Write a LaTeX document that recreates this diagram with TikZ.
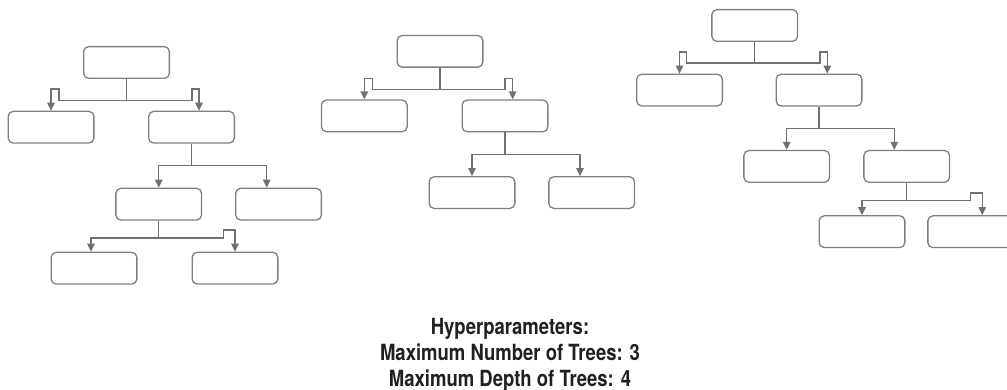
\documentclass[tikz,border=0pt]{standalone}
\usepackage{xcolor}
\usepackage{fontspec}
\usepackage{tikz}
\usetikzlibrary{arrows.meta, positioning}

\newfontfamily\hpfont{TeX Gyre Heros}[FakeStretch=0.83]
\definecolor{boxgray}{HTML}{7F7F7F}
\definecolor{linkgray}{HTML}{717171}
\definecolor{textdark}{HTML}{231F20}

\begin{document}
\begin{tikzpicture}[x=1pt, y=-1pt]
            \tikzstyle{leaf} = [draw=boxgray, line width=1.3pt, rounded corners=5pt, minimum width=85.7pt, minimum height=31.7pt, inner sep=0pt]
            \tikzstyle{link} = [draw=linkgray, line width=1.3pt, -{Triangle[length=8pt, width=7.5pt]}]
            \tikzstyle{caption} = [inner sep=0pt, align=center, text=textdark, font=\hpfont\bfseries\fontsize{22.3}{26}\selectfont]

            \useasboundingbox (0,0) rectangle (1007,390);

            % Tree 1
            \node[leaf] (t1r) at (126.5,62.5) {};
            \node[leaf, below=31.7pt of t1r, xshift=-75.5pt] (t1a) {};
            \node[leaf, below=31.7pt of t1r, xshift=65pt] (t1b) {};
            \node[leaf, below=44pt of t1b, xshift=-32.8pt] (t1c) {};
            \node[leaf, below=44pt of t1b, xshift=87pt] (t1d) {};
            \node[leaf, below=31pt of t1c, xshift=-64.7pt] (t1e) {};
            \node[leaf, below=31pt of t1c, xshift=76.3pt] (t1f) {};

            % Tree 2
            \node[leaf] (t2r) at (440,51.3) {};
            \node[leaf, below=31.6pt of t2r, xshift=-75.7pt] (t2a) {};
            \node[leaf, below=31.6pt of t2r, xshift=65pt] (t2b) {};
            \node[leaf, below=43.7pt of t2b, xshift=-33pt] (t2c) {};
            \node[leaf, below=43.7pt of t2b, xshift=86.7pt] (t2d) {};

            % Tree 3
            \node[leaf] (t3r) at (754.7,25.5) {};
            \node[leaf, below=31.6pt of t3r, xshift=-75.2pt] (t3a) {};
            \node[leaf, below=31.6pt of t3r, xshift=64.3pt] (t3b) {};
            \node[leaf, below=43.3pt of t3b, xshift=-32.3pt] (t3c) {};
            \node[leaf, below=43.3pt of t3b, xshift=87.7pt] (t3d) {};
            \node[leaf, below=32.3pt of t3d, xshift=-44.7pt] (t3e) {};
            \node[leaf, below=32.3pt of t3d, xshift=64pt] (t3f) {};

            % Splits of tree 1
            \draw[link] (t1r.south) |- ([shift={(8,-10)}]t1a.north) |- ([shift={(0,-21.7)}]t1a.north) -- (t1a.north);
            \draw[link] (t1r.south) |- ([shift={(0.5,-10)}]t1b.north) |- ([shift={(7.5,-21.7)}]t1b.north) -- ([xshift=7.5pt]t1b.north);
            \draw[link] (t1b.south) -- ++(0,21.6) -| (t1c.north);
            \draw[link] (t1b.south) -- ++(0,21.6) -| ([xshift=-11.8pt]t1d.north);
            \draw[link] (t1c.south) -- ++(0,17.3) -| ([xshift=-3pt]t1e.north);
            \draw[link] (t1c.south) |- ([shift={(-11.3,-13.7)}]t1f.north) |- ([shift={(0,-21.7)}]t1f.north) -- (t1f.north);

            % Splits of tree 2
            \draw[link] (t2r.south) |- ([shift={(8,-10)}]t2a.north) |- ([shift={(0,-21)}]t2a.north) -- (t2a.north);
            \draw[link] (t2r.south) |- ([shift={(0,-10)}]t2b.north) |- ([shift={(7.7,-21)}]t2b.north) -- ([xshift=7.7pt]t2b.north);
            \draw[link] (t2b.south) -- ++(0,22) -| (t2c.north);
            \draw[link] (t2b.south) -- ++(0,22) -| ([xshift=-11.7pt]t2d.north);

            % Splits of tree 3
            \draw[link] (t3r.south) |- ([shift={(7.3,-10.6)}]t3a.north) |- ([shift={(0,-21.6)}]t3a.north) -- (t3a.north);
            \draw[link] (t3r.south) |- ([shift={(1,-10.6)}]t3b.north) |- ([shift={(8.3,-21.6)}]t3b.north) -- ([xshift=8.3pt]t3b.north);
            \draw[link] (t3b.south) -- ++(0,21.7) -| (t3c.north);
            \draw[link] (t3b.south) -- ++(0,21.7) -| ([xshift=-12.4pt]t3d.north);
            \draw[link] (t3d.south) -- ++(0,17.6) -| (t3e.north);
            \draw[link] (t3d.south) |- ([shift={(0,-14.7)}]t3f.north) |- ([shift={(11.6,-22.3)}]t3f.north) -- ([xshift=11.6pt]t3f.north);

            % Hyperparameters
            \node[caption, anchor=north] (hp) at (510,318) {Hyperparameters:\\Maximum Number of Trees: 3\\Maximum Depth of Trees: 4};
\end{tikzpicture}
\end{document}
